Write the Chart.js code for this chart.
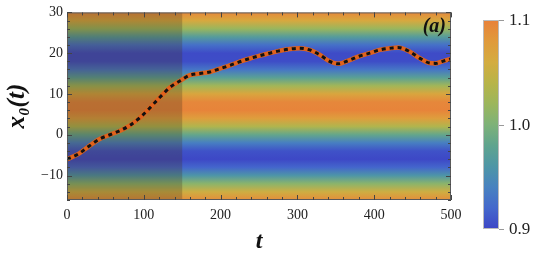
<!DOCTYPE html>
<html>
<head>
<meta charset="utf-8">
<script src="https://cdn.jsdelivr.net/npm/chart.js@4"></script>
<style>
  html, body { margin: 0; padding: 0; background: #ffffff; }
  #wrap { width: 542px; height: 262px; }
</style>
</head>
<body>
<div id="wrap"><canvas id="c" width="542" height="262"></canvas></div>
<script>
// ---- data ----
const tVals  = [0, 15, 28, 43, 56, 69, 82, 95, 108, 121, 134, 147, 160, 173, 186, 199, 212, 225, 238, 251, 264, 277, 290, 303, 316, 329, 342, 353, 368, 381, 394, 407, 420, 431, 446, 459, 472, 480, 489, 500];
const x0Vals = [-6.0, -4.7, -2.9, -1.0, 0.0, 1.0, 2.3, 4.2, 6.6, 9.2, 11.6, 13.2, 14.6, 15.0, 15.4, 16.2, 17.0, 17.9, 18.7, 19.4, 20.0, 20.6, 21.0, 21.2, 20.8, 19.6, 18.0, 17.4, 18.3, 19.3, 20.0, 20.8, 21.2, 21.4, 20.4, 18.8, 17.6, 17.5, 18.0, 18.6];

// background field (value as function of x0), sampled every 2 units
const heatY   = [-16, -14, -12, -10, -8, -6, -4, -2, 0, 2, 4, 6, 8, 10, 12, 14, 16, 18, 20, 22, 24, 26, 28, 30];
const heatVal = [1.090, 1.056, 1.009, 0.959, 0.919, 0.901, 0.907, 0.937, 0.983, 1.034, 1.076, 1.098, 1.095, 1.068, 1.024, 0.974, 0.930, 0.904, 0.903, 0.926, 0.969, 1.019, 1.065, 1.094];

const shadeEnd = 150;                 // t where darkened region ends
const xTicks = [0, 100, 200, 300, 400, 500];
const yTicks = [-10, 0, 10, 20, 30];
const cbTicks = [0.9, 1.0, 1.1];
const cbMin = 0.9, cbMax = 1.1;

// ---- colour map ----
const cmapStops = [
  [0.00, [61, 70, 198]],
  [0.10, [68, 104, 204]],
  [0.20, [72, 130, 192]],
  [0.30, [78, 150, 166]],
  [0.40, [95, 164, 142]],
  [0.50, [126, 178, 120]],
  [0.60, [156, 182, 92]],
  [0.70, [184, 180, 72]],
  [0.80, [212, 172, 64]],
  [0.90, [224, 154, 60]],
  [1.00, [232, 129, 58]]
];
function cmap(v) {
  let f = (v - cbMin) / (cbMax - cbMin);
  f = Math.max(0, Math.min(1, f));
  for (let i = 1; i < cmapStops.length; i++) {
    if (f <= cmapStops[i][0]) {
      const [a, ca] = cmapStops[i - 1], [b, cb] = cmapStops[i];
      const u = (f - a) / (b - a);
      const c = ca.map((x, k) => Math.round(x + (cb[k] - x) * u));
      return `rgb(${c[0]},${c[1]},${c[2]})`;
    }
  }
  const c = cmapStops[cmapStops.length - 1][1];
  return `rgb(${c[0]},${c[1]},${c[2]})`;
}

const SERIF = '"Liberation Serif", "DejaVu Serif", serif';

const bgPlugin = {
  id: 'bg',
  beforeDatasetsDraw(chart) {
    const { ctx, chartArea: a, scales: { x, y } } = chart;
    ctx.save();
    ctx.beginPath();
    ctx.rect(a.left, a.top, a.right - a.left, a.bottom - a.top);
    ctx.clip();
    const p0 = y.getPixelForValue(heatY[0]);
    const p1 = y.getPixelForValue(heatY[heatY.length - 1]);
    const g = ctx.createLinearGradient(0, p0, 0, p1);
    const span = heatY[heatY.length - 1] - heatY[0];
    heatY.forEach((yy, i) => g.addColorStop((yy - heatY[0]) / span, cmap(heatVal[i])));
    ctx.fillStyle = g;
    ctx.fillRect(a.left, a.top, a.right - a.left, a.bottom - a.top);
    // darkened region
    const xs = x.getPixelForValue(0), xe = x.getPixelForValue(shadeEnd);
    ctx.fillStyle = 'rgba(70,50,30,0.28)';
    ctx.fillRect(xs, a.top, xe - xs, a.bottom - a.top);
    ctx.restore();
  },
  afterDatasetsDraw(chart) {
    const { ctx, chartArea: a, scales: { x, y } } = chart;
    ctx.save();
    // frame
    ctx.strokeStyle = '#5a5a5a';
    ctx.lineWidth = 1;
    ctx.strokeRect(a.left + 0.5, a.top + 0.5, a.right - a.left - 1, a.bottom - a.top - 1);
    // inward ticks
    ctx.strokeStyle = '#444';
    ctx.beginPath();
    for (let t = x.min; t <= x.max + 1e-9; t += 20) {
      const px = Math.round(x.getPixelForValue(t)) + 0.5;
      const L = (t % 100 === 0) ? 5 : 3;
      ctx.moveTo(px, a.bottom); ctx.lineTo(px, a.bottom - L);
      ctx.moveTo(px, a.top); ctx.lineTo(px, a.top + L);
    }
    for (let v = -16; v <= 30 + 1e-9; v += 2) {
      const py = Math.round(y.getPixelForValue(v)) + 0.5;
      const L = (v % 10 === 0) ? 5 : 3;
      ctx.moveTo(a.left, py); ctx.lineTo(a.left + L, py);
      ctx.moveTo(a.right, py); ctx.lineTo(a.right - L, py);
    }
    ctx.stroke();
    // panel label
    ctx.fillStyle = '#111';
    ctx.font = 'italic bold 20px ' + SERIF;
    ctx.textAlign = 'right';
    ctx.textBaseline = 'middle';
    ctx.fillText('(a)', a.right - 5, a.top + 14);

    // colour bar
    const cbL = 483, cbR = 499, cbT = 20, cbB = 229;
    const cbPix = v => cbB - (v - cbMin) / (cbMax - cbMin) * (cbB - cbT);
    const g = ctx.createLinearGradient(0, cbB, 0, cbT);
    cmapStops.forEach(s => {
      const c = s[1];
      g.addColorStop(s[0], `rgb(${c[0]},${c[1]},${c[2]})`);
    });
    ctx.fillStyle = g;
    ctx.fillRect(cbL, cbT, cbR - cbL, cbB - cbT);
    ctx.strokeStyle = '#bbbbbb';
    ctx.strokeRect(cbL + 0.5, cbT + 0.5, cbR - cbL - 1, cbB - cbT - 1);
    ctx.strokeStyle = '#999';
    ctx.beginPath();
    ctx.font = '17px ' + SERIF;
    ctx.textAlign = 'left';
    ctx.fillStyle = '#222';
    cbTicks.forEach(v => {
      const py = Math.round(cbPix(v)) + 0.5;
      ctx.moveTo(cbR, py); ctx.lineTo(cbR + 5, py);
      ctx.fillText(v.toFixed(1), 509, py);
    });
    ctx.stroke();
    ctx.restore();
  }
};

const pts = tVals.map((t, i) => ({ x: t, y: x0Vals[i] }));

new Chart(document.getElementById('c'), {
  type: 'line',
  data: {
    datasets: [
      { data: pts, borderColor: '#111', borderWidth: 3, borderDash: [4, 4], pointRadius: 0, cubicInterpolationMode: 'monotone', order: 0 },
      { data: pts, borderColor: '#e0621c', borderWidth: 4.5, pointRadius: 0, cubicInterpolationMode: 'monotone', order: 1 }
    ]
  },
  options: {
    responsive: false,
    animation: false,
    events: [],
    layout: { padding: { left: 0, right: 91, top: 9, bottom: 0 } },
    plugins: { legend: { display: false }, tooltip: { enabled: false } },
    scales: {
      x: {
        type: 'linear', min: 0, max: 500,
        afterFit: s => { s.height = 62; },
        afterBuildTicks: s => { s.ticks = xTicks.map(v => ({ value: v })); },
        grid: { display: false, drawTicks: false },
        border: { display: false },
        ticks: { padding: 7, color: '#222', font: { family: SERIF, size: 14 }, maxRotation: 0 },
        title: { display: true, text: 't', color: '#111', padding: 6, font: { family: SERIF, size: 24, style: 'italic', weight: 'bold' } }
      },
      y: {
        type: 'linear', min: -16, max: 30,
        afterFit: s => { s.width = 67; },
        afterBuildTicks: s => { s.ticks = yTicks.map(v => ({ value: v })); },
        grid: { display: false, drawTicks: false },
        border: { display: false },
        ticks: { padding: 4, color: '#222', font: { family: SERIF, size: 14 },
                 callback: v => v < 0 ? '\u2212' + Math.abs(v) : String(v) },
        title: { display: true, text: 'x\u2080(t)', color: '#111', padding: 3, font: { family: SERIF, size: 25, style: 'italic', weight: 'bold' } }
      }
    }
  },
  plugins: [bgPlugin]
});
</script>
</body>
</html>
